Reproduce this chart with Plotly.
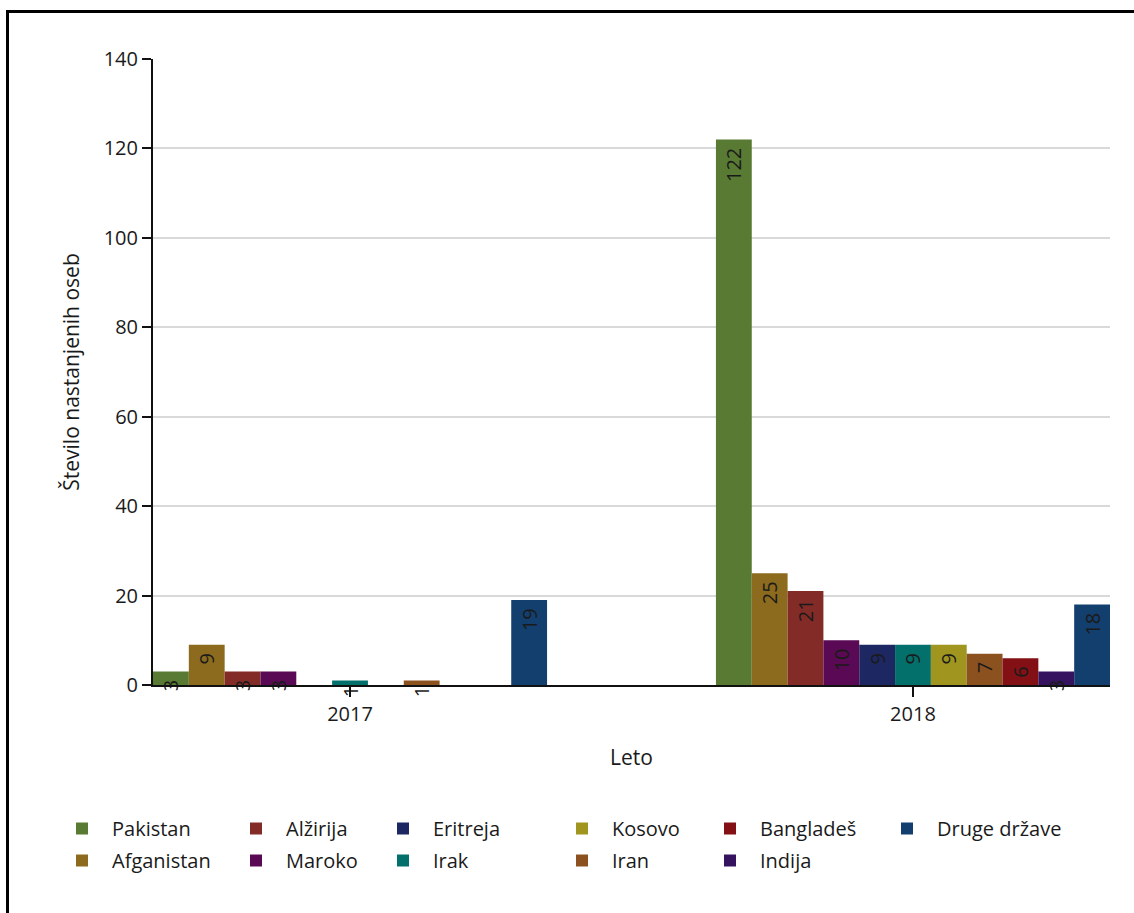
import plotly.graph_objects as go

years = ["2017", "2018"]
countries = ["Pakistan", "Afganistan", "Alžirija", "Maroko", "Eritreja", "Irak",
             "Kosovo", "Iran", "Bangladeš", "Indija", "Druge države"]
values_2017 = [3, 9, 3, 3, None, 1, None, 1, None, None, 19]
values_2018 = [122, 25, 21, 10, 9, 9, 9, 7, 6, 3, 18]
colors = ["#587A33", "#8C6A1E", "#832B27", "#5A0A55", "#1D2761", "#03706B",
          "#A0951F", "#8B5220", "#821015", "#36135F", "#133F6E"]
y_ticks = [0, 20, 40, 60, 80, 100, 120, 140]

# legend layout: columns of (row1, row2)
legend_columns = [["Pakistan", "Afganistan"], ["Alžirija", "Maroko"], ["Eritreja", "Irak"],
                  ["Kosovo", "Iran"], ["Bangladeš", "Indija"], ["Druge države"]]
legend_text_left_px = [112, 286, 433, 612, 760, 937]

W, H = 1134, 913
ML, MR, MT, MB = 153, 24, 59, 228
PW = W - ML - MR
PH = H - MT - MB

def px_x(px):
    return (px - ML) / PW

def px_y(py):
    return (H - MB - py) / PH

FONT = "Open Sans"
FS = 20
TXT = "#1a1a1a"
ITEMW = 50

fig = go.Figure()
col_of = {}
for ci, col in enumerate(legend_columns):
    for name in col:
        col_of[name] = ci

for i, name in enumerate(countries):
    ci = col_of[name]
    lname = "legend" if ci == 0 else f"legend{ci + 1}"
    fig.add_trace(go.Bar(
        name=name,
        x=years,
        y=[values_2017[i], values_2018[i]],
        marker=dict(color=colors[i], line=dict(width=0)),
        texttemplate="%{y}\u00a0",
        textposition="inside",
        insidetextanchor="end",
        textangle=-90,
        constraintext="none",
        cliponaxis=False,
        insidetextfont=dict(family=FONT, size=FS, color=TXT),
        legend=lname,
        legendgroup=name,
        hoverinfo="x+y+name",
    ))

layout_legends = {}
for ci, col in enumerate(legend_columns):
    key = "legend" if ci == 0 else f"legend{ci + 1}"
    layout_legends[key] = dict(
        x=px_x(legend_text_left_px[ci] - ITEMW - 10),
        xanchor="left",
        y=px_y(809),
        yanchor="top",
        orientation="v",
        itemwidth=ITEMW,
        font=dict(family=FONT, size=FS, color=TXT),
        bgcolor="rgba(0,0,0,0)",
        tracegroupgap=3,
        itemclick=False,
        itemdoubleclick=False,
    )

fig.update_layout(
    width=W, height=H,
    margin=dict(l=ML, r=MR, t=MT, b=MB, pad=0),
    paper_bgcolor="white",
    plot_bgcolor="white",
    font=dict(family=FONT, size=FS, color=TXT),
    barmode="group",
    bargap=0.3,
    bargroupgap=0,
    showlegend=True,
    **layout_legends,
    xaxis=dict(
        type="category",
        range=[-0.35, 1.35],
        showline=True, linecolor="#111", linewidth=2,
        ticks="outside", ticklen=10, tickcolor="#111", tickwidth=2,
        showgrid=False,
        tickfont=dict(family=FONT, size=FS, color=TXT),
        title=dict(text="Leto", standoff=24, font=dict(family=FONT, size=21, color=TXT)),
    ),
    yaxis=dict(
        range=[0, 140],
        tickvals=y_ticks,
        showline=True, linecolor="#111", linewidth=2,
        ticks="outside", ticklen=9, tickcolor="#111", tickwidth=2,
        showgrid=True, gridcolor="#d9d9d9", gridwidth=1.5,
        zeroline=False,
        tickfont=dict(family=FONT, size=FS, color=TXT),
        title=dict(text="Število nastanjenih oseb", standoff=18,
                   font=dict(family=FONT, size=21, color=TXT)),
    ),
    shapes=[
        dict(type="line", xref="paper", yref="paper",
             x0=px_x(7.5), x1=px_x(7.5), y0=px_y(10), y1=px_y(H),
             line=dict(color="black", width=3)),
        dict(type="line", xref="paper", yref="paper",
             x0=px_x(6), x1=px_x(W), y0=px_y(11.5), y1=px_y(11.5),
             line=dict(color="black", width=3)),
    ],
)

fig.write_html("out.html", config={"displayModeBar": False},
               post_script="document.body.style.margin='0px';")
